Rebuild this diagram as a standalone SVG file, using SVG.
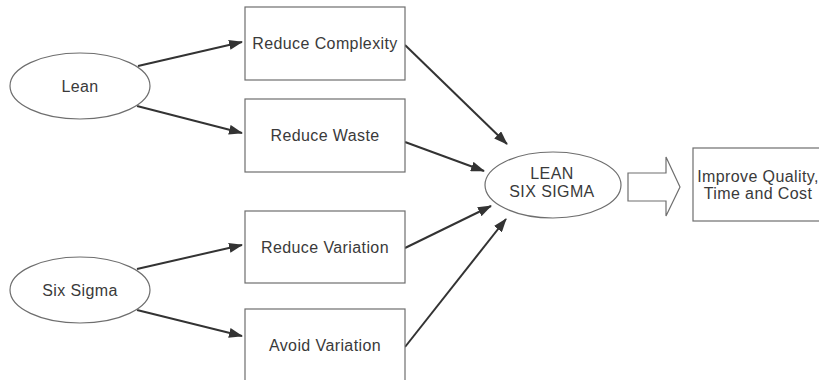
<svg xmlns="http://www.w3.org/2000/svg" width="819" height="380" viewBox="0 0 819 380">
  <style>
    .shape { fill: #ffffff; stroke: #6e6e6e; stroke-width: 1.2; }
    .label { font-family: "Liberation Sans", Arial, sans-serif; font-size: 16px; fill: #3a3a3a; text-anchor: middle; letter-spacing: 0.4px; }
    .conn { stroke: #333333; stroke-width: 2; fill: none; marker-end: url(#head); }
  </style>
  <defs>
    <marker id="head" viewBox="0 0 14 10" refX="13" refY="5" markerWidth="14" markerHeight="10" markerUnits="userSpaceOnUse" orient="auto">
      <path d="M0,0 L14,5 L0,10 z" fill="#333333"/>
    </marker>
  </defs>
  <rect width="819" height="380" fill="#ffffff"/>

  <g id="connectors">
    <line class="conn" x1="138" y1="66" x2="242" y2="42"/>
    <line class="conn" x1="137" y1="106" x2="242" y2="133"/>
    <line class="conn" x1="137" y1="269" x2="242" y2="245"/>
    <line class="conn" x1="137" y1="310" x2="242" y2="336"/>
    <line class="conn" x1="405" y1="45" x2="507" y2="144"/>
    <line class="conn" x1="405" y1="142" x2="484" y2="171"/>
    <line class="conn" x1="405" y1="248" x2="491" y2="206"/>
    <line class="conn" x1="405" y1="347" x2="506" y2="219"/>
  </g>

  <g id="lean">
    <ellipse class="shape" cx="80" cy="86" rx="70" ry="33"/>
    <text class="label" x="80" y="92">Lean</text>
  </g>
  <g id="six-sigma">
    <ellipse class="shape" cx="80" cy="290" rx="70" ry="33"/>
    <text class="label" x="80" y="296">Six Sigma</text>
  </g>

  <g id="reduce-complexity">
    <rect class="shape" x="245" y="7" width="160" height="73"/>
    <text class="label" x="325" y="49">Reduce Complexity</text>
  </g>
  <g id="reduce-waste">
    <rect class="shape" x="245" y="99" width="160" height="73"/>
    <text class="label" x="325" y="141">Reduce Waste</text>
  </g>
  <g id="reduce-variation">
    <rect class="shape" x="245" y="211" width="160" height="72"/>
    <text class="label" x="325" y="253">Reduce Variation</text>
  </g>
  <g id="avoid-variation">
    <rect class="shape" x="245" y="309" width="160" height="73"/>
    <text class="label" x="325" y="351">Avoid Variation</text>
  </g>

  <g id="lean-six-sigma">
    <ellipse class="shape" cx="553" cy="185" rx="68" ry="33"/>
    <text class="label" x="552" y="179">LEAN</text>
    <text class="label" x="552" y="197">SIX SIGMA</text>
  </g>

  <g id="block-arrow">
    <path class="shape" d="M628,173 L666,173 L666,157 L680,187 L666,216 L666,201 L628,201 z"/>
  </g>

  <g id="improve">
    <rect class="shape" x="693" y="148" width="140" height="73"/>
    <text class="label" x="758" y="182">Improve Quality,</text>
    <text class="label" x="758" y="199">Time and Cost</text>
  </g>
</svg>
